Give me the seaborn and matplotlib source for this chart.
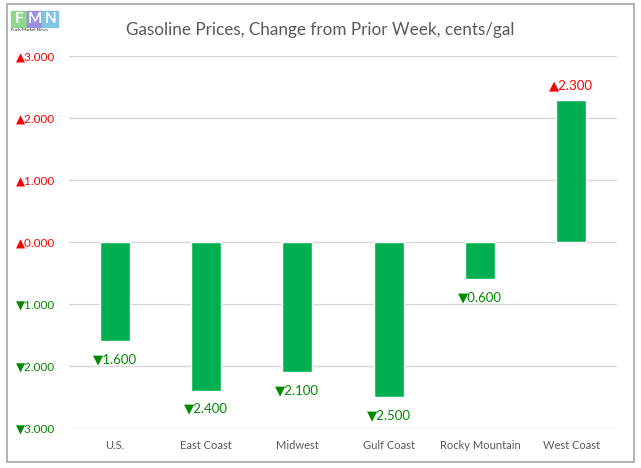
import matplotlib
matplotlib.use("Agg")
import pandas as pd
import seaborn as sns
import matplotlib.pyplot as plt
from matplotlib.patches import Rectangle

# chart data
regions = ["U.S.", "East Coast", "Midwest", "Gulf Coast", "Rocky Mountain", "West Coast"]
changes = [-1.6, -2.4, -2.1, -2.5, -0.6, 2.3]
y_ticks = [-3, -2, -1, 0, 1, 2, 3]

df = pd.DataFrame({"region": regions, "change": changes})

sns.set_theme(style="white")
plt.rcParams["font.family"] = ["Lato", "DejaVu Sans"]

up_col = "#FF0000"
down_col = "#008A00"

def fmt(v):
    if v >= 0:
        return "\u25b2%.3f" % abs(v)
    return "\u25bc%.3f" % abs(v)

fig = plt.figure(figsize=(6.41, 4.68), dpi=100)
ax = fig.add_axes([0.1076, 0.0855, 0.855, 0.7945])

sns.barplot(data=df, x="region", y="change", color="#00B050", width=0.33,
            saturation=1, ax=ax)

ax.set_ylim(-3, 3)
ax.set_yticks(y_ticks)
ax.set_yticklabels([fmt(t) for t in y_ticks], fontsize=8.5)
for lab, t in zip(ax.get_yticklabels(), y_ticks):
    lab.set_color(up_col if t >= 0 else down_col)
ax.tick_params(axis="y", length=0, pad=10)
ax.tick_params(axis="x", length=0, labelsize=8, labelcolor="#595959", pad=9)
ax.set_xlabel("")
ax.set_ylabel("")
for s in ax.spines.values():
    s.set_visible(False)
ax.yaxis.grid(True, color="#D9D9D9", linewidth=1)
ax.set_axisbelow(True)

# value labels
for i, v in enumerate(changes):
    off = 10 if v >= 0 else -13
    ax.annotate(fmt(v), (i, v), xytext=(0, off), textcoords="offset points",
                ha="center", va="center", fontsize=9.5,
                color=up_col if v >= 0 else down_col)

fig.text(0.5, 0.935, "Gasoline Prices, Change from Prior Week, cents/gal",
         ha="center", va="center", fontsize=12.3, color="#595959")

# border around the chart
fig.patches.append(Rectangle((0.011, 0.0128), 0.978, 0.978, transform=fig.transFigure,
                             fill=False, edgecolor="#A6A6A6", linewidth=1.2))

# logo
logo_cols = ["#8FD68F", "#9A8FE0", "#7FC6E6"]
for k, (c, letter) in enumerate(zip(logo_cols, "FMN")):
    x0 = 0.0172 + k * 0.0245
    fig.patches.append(Rectangle((x0, 0.942), 0.0245, 0.035, transform=fig.transFigure,
                                 color=c, zorder=1))
    fig.text(x0 + 0.0122, 0.959, letter, ha="center", va="center", fontsize=11,
             color="white", fontweight="bold", zorder=2)
fig.text(0.0172, 0.935, "Fuels Market News", fontsize=3.2, color="#333333", va="center")

fig.savefig("out.png", dpi=100)
